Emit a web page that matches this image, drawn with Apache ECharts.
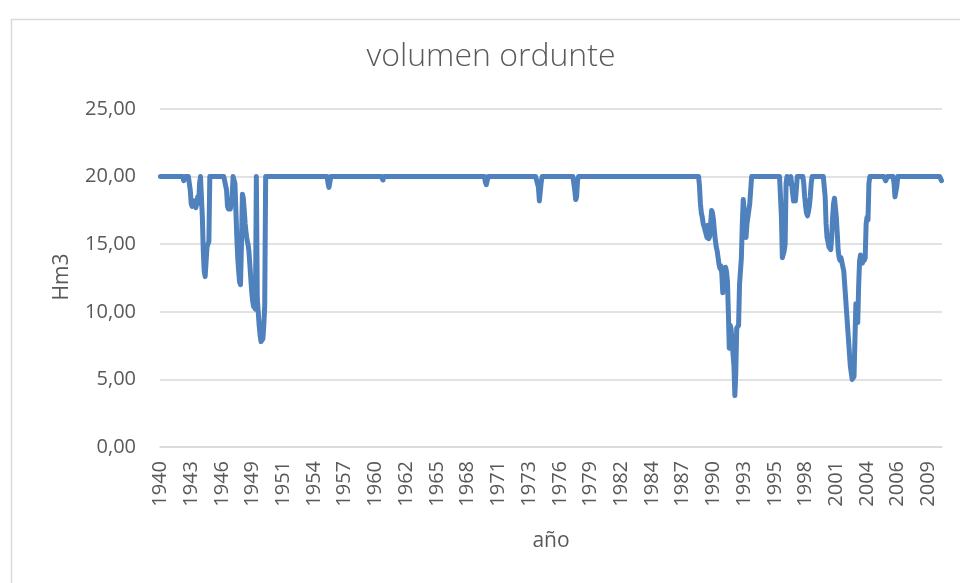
<!DOCTYPE html>
<html>
<head>
<meta charset="utf-8">
<script src="https://cdn.jsdelivr.net/npm/echarts@6/dist/echarts.min.js"></script>
<style>
html,body{margin:0;padding:0;background:#fff;}
#chart{width:960px;height:583px;}
</style>
</head>
<body>
<div id="chart"></div>
<script>
// Monthly series, hydrological years starting October 1940
const startYear = 1940;
const startMonth = 10;

// Volume (Hm3), one row per hydrological year (Oct..Sep)
const vol1940s = [
  20,20,20,20,20,20,20,20,20,20,20,20,
  20,20,20,20,20,20,20,20,20,20,20,20,
  20,19.7,19.8,20,20,20,20,20,19.0,18.0,17.8,17.7,
  18.2,17.9,17.7,18.0,18.5,18.0,19.5,20,20,17.0,14.5,13.0,
  12.6,12.7,14.8,15.0,15.2,20,20,20,20,20,20,20,
  20,20,20,20,20,20,20,20,20,20,20,19.0,
  17.8,17.6,17.8,17.6,17.7,18.5,20,20,19.5,17.5,15.5,14.0,
  13.0,12.2,12.0,15.0,18.7,18.4,17.5,16.5,15.8,15.3,15.0,14.5,
  13.5,12.5,11.5,10.8,10.4,10.5,10.2,20,11.0,10.0,9.0,8.3,
  7.8,7.7,8.0,9.0,10.5,20,20,20,20,20,20,20
];
const vol1950s = [
  20,20,20,20,20,20,20,20,20,20,20,20,
  20,20,20,20,20,20,20,20,20,20,20,20,
  20,20,20,20,20,20,20,20,20,20,20,20,
  20,20,20,20,20,20,20,20,20,20,20,20,
  20,20,20,20,20,20,20,20,20,20,20,20,
  19.5,19.2,19.6,20,20,20,20,20,20,20,20,20,
  20,20,20,20,20,20,20,20,20,20,20,20,
  20,20,20,20,20,20,20,20,20,20,20,20,
  20,20,20,20,20,20,20,20,20,20,20,20,
  20,20,20,20,20,20,20,20,20,20,20,19.75
];
const vol1960s = [
  20,20,20,20,20,20,20,20,20,20,20,20,
  20,20,20,20,20,20,20,20,20,20,20,20,
  20,20,20,20,20,20,20,20,20,20,20,20,
  20,20,20,20,20,20,20,20,20,20,20,20,
  20,20,20,20,20,20,20,20,20,20,20,20,
  20,20,20,20,20,20,20,20,20,20,20,20,
  20,20,20,20,20,20,20,20,20,20,20,20,
  20,20,20,20,20,20,20,20,20,20,20,20,
  20,20,20,20,20,20,20,20,20,20,20,20,
  20,19.6,19.4,19.7,20,20,20,20,20,20,20,20
];
const vol1970s = [
  20,20,20,20,20,20,20,20,20,20,20,20,
  20,20,20,20,20,20,20,20,20,20,20,20,
  20,20,20,20,20,20,20,20,20,20,20,20,
  20,20,20,20,20,20,20,20,20,20,19.2,18.2,
  18.3,19.6,20,20,20,20,20,20,20,20,20,20,
  20,20,20,20,20,20,20,20,20,20,20,20,
  20,20,20,20,20,20,20,20,20,20,20,20,
  20,19.0,18.3,18.5,19.7,20,20,20,20,20,20,20,
  20,20,20,20,20,20,20,20,20,20,20,20,
  20,20,20,20,20,20,20,20,20,20,20,20
];
const vol1980s = [
  20,20,20,20,20,20,20,20,20,20,20,20,
  20,20,20,20,20,20,20,20,20,20,20,20,
  20,20,20,20,20,20,20,20,20,20,20,20,
  20,20,20,20,20,20,20,20,20,20,20,20,
  20,20,20,20,20,20,20,20,20,20,20,20,
  20,20,20,20,20,20,20,20,20,20,20,20,
  20,20,20,20,20,20,20,20,20,20,20,20,
  20,20,20,20,20,20,20,20,20,20,20,20,
  20,20,20,19.3,18.0,17.3,17.0,16.5,16.3,16.4,16.2,15.5,
  16.4,15.4,15.6,16.5,17.5,17.3,16.8,16.0,15.3,14.8,14.5,14.0
];
const vol1990s = [
  13.5,13.2,13.4,12.8,11.4,12.0,13.0,13.3,13.0,12.3,10.0,7.3,
  9.0,8.7,8.8,8.6,6.0,3.8,5.5,8.8,8.9,9.0,12.0,13.0,
  14.0,16.5,18.3,17.5,15.8,15.5,16.5,17.0,17.5,18.0,19.0,20,
  20,20,20,20,20,20,20,20,20,20,20,20,
  20,20,20,20,20,20,20,20,20,20,20,20,
  20,20,20,20,20,20,20,17.0,14.0,14.1,14.5,15.0,
  19.5,20,20,19.5,19.8,20,19.5,18.8,18.2,18.5,18.2,19.0,
  20,20,20,20,20,20,20,19.5,18.5,17.8,17.3,17.1,
  17.4,17.8,18.5,19.5,20,20,20,20,20,20,20,20,
  20,20,20,20,20,20,18.5,16.5,15.5,15.2,14.8,14.7
];
const vol2000s = [
  14.6,15.5,17.0,18.0,18.4,18.3,17.0,15.8,14.5,14.0,13.8,14.0,
  13.9,14.0,13.0,12.0,11.0,10.0,9.0,8.0,7.0,6.0,5.5,5.0,
  5.0,5.2,8.0,10.6,9.5,9.2,12.0,13.8,14.2,14.0,13.6,14.1,
  13.8,14.0,16.5,17.0,16.8,19.5,20,20,20,20,20,20,
  20,20,20,20,20,20,20,20,20,20,20,19.7,
  19.8,20,20,20,20,20,20,20,19.5,18.5,18.5,19.3,
  20,20,20,20,20,20,20,20,20,20,20,20,
  20,20,20,20,20,20,20,20,20,20,20,20,
  20,20,20,20,20,20,20,20,20,20,20,20,
  20,20,20,20,20,20,20,20,20,20,20,19.7
];

const volume = [].concat(vol1940s, vol1950s, vol1960s, vol1970s, vol1980s, vol1990s, vol2000s);

const categories = volume.map(function (_, i) {
  const m = startMonth - 1 + i;
  const y = startYear + Math.floor(m / 12);
  const mm = (m % 12) + 1;
  return y + '-' + (mm < 10 ? '0' + mm : mm);
});

const yTicks = { min: 0, max: 25, step: 5 };
const labelEvery = 33;

const chart = echarts.init(document.getElementById('chart'), null, { renderer: 'canvas' });
const FONT = "'Open Sans', 'Liberation Sans', sans-serif";
const TXT = '#595959';

chart.setOption({
  animation: false,
  backgroundColor: '#ffffff',
  graphic: [
    {
      type: 'rect', left: 9, top: 17, z: -1,
      shape: { width: 1000, height: 1000 },
      style: { fill: 'none', stroke: '#d9d9d9', lineWidth: 1.5 }
    },
    {
      type: 'text', x: 491, y: 57,
      style: { text: 'volumen ordunte', fontFamily: FONT, fontSize: 32, fontWeight: 300, fill: TXT, align: 'center', verticalAlign: 'middle' }
    },
    {
      type: 'text', x: 62, y: 277, rotation: Math.PI / 2,
      style: { text: 'Hm3', fontFamily: FONT, fontSize: 21, fill: TXT, align: 'center', verticalAlign: 'middle' }
    },
    {
      type: 'text', x: 551, y: 541,
      style: { text: 'año', fontFamily: FONT, fontSize: 21, fill: TXT, align: 'center', verticalAlign: 'middle' }
    }
  ],
  grid: { left: 160, right: 18, top: 109, bottom: 136, containLabel: false },
  xAxis: {
    type: 'category',
    data: categories,
    boundaryGap: true,
    axisLine: { show: true, lineStyle: { color: '#d9d9d9', width: 1.5 } },
    axisTick: { show: false },
    axisLabel: {
      interval: labelEvery - 1,
      rotate: 90,
      margin: 14,
      fontFamily: FONT,
      fontSize: 20,
      color: TXT,
      formatter: function (v) { return v.slice(0, 4); }
    },
    splitLine: { show: false }
  },
  yAxis: {
    type: 'value',
    min: yTicks.min,
    max: yTicks.max,
    interval: yTicks.step,
    axisLine: { show: false },
    axisTick: { show: false },
    axisLabel: {
      margin: 24,
      fontFamily: FONT,
      fontSize: 20,
      color: TXT,
      formatter: function (v) { return v.toFixed(2).replace('.', ','); }
    },
    splitLine: { show: true, lineStyle: { color: '#d9d9d9', width: 1.5 } }
  },
  series: [{
    type: 'line',
    data: volume,
    showSymbol: false,
    symbol: 'none',
    smooth: false,
    lineStyle: { color: '#4F81BD', width: 5, cap: 'round', join: 'round' },
    itemStyle: { color: '#4F81BD' }
  }]
});
</script>
</body>
</html>
